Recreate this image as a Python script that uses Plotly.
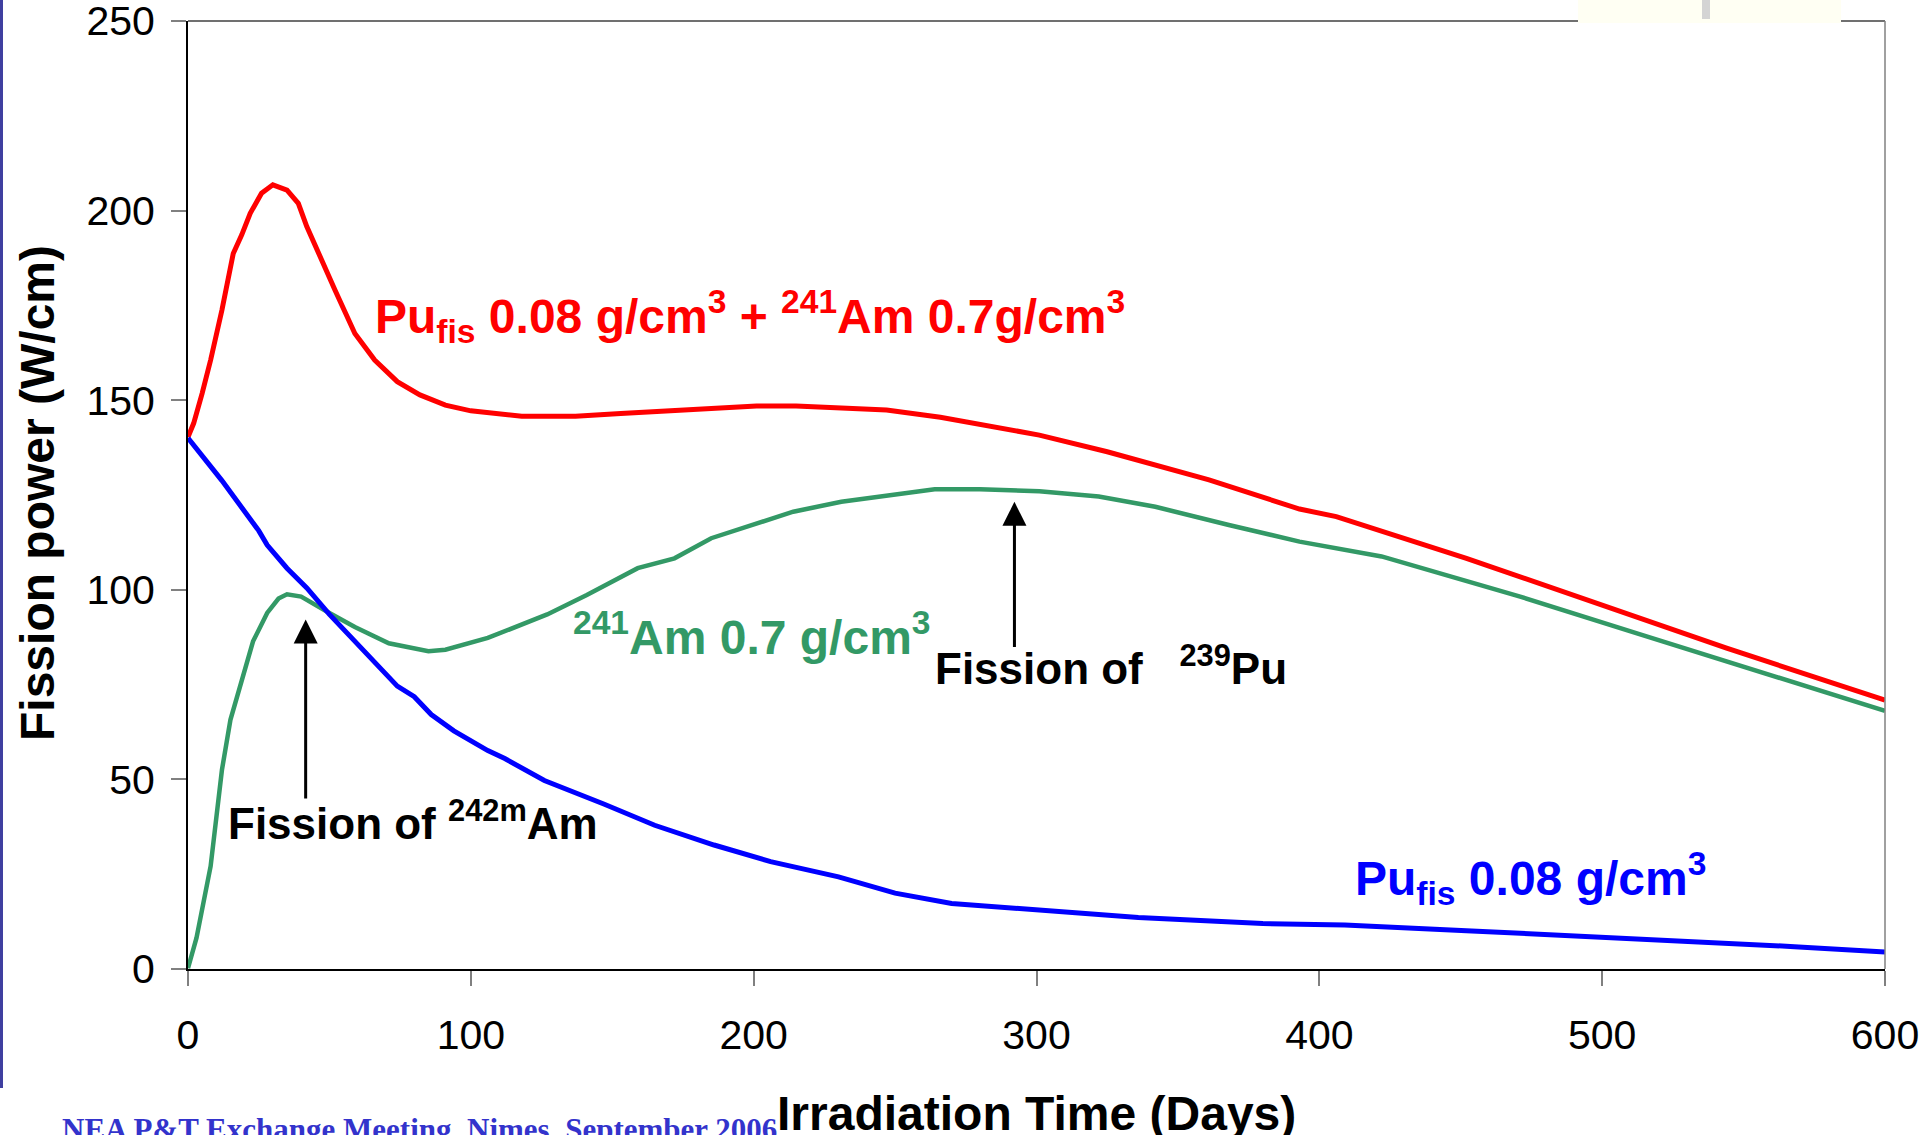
import plotly.graph_objects as go

# ---------------- data ----------------
red_x = [0, 2, 5, 8, 12, 14, 16, 19, 22, 26, 30, 35, 39, 42, 47, 52, 59, 66, 74, 82, 91,
         100, 118, 137, 153, 177, 201, 215, 247, 266, 301, 325, 361, 393, 406, 452, 498, 544, 600]
red_y = [140.3, 143.9, 151.8, 160.6, 173.8, 181.7, 188.7, 193.6, 199.3, 204.6, 206.8, 205.4,
         201.9, 195.8, 187.0, 179.0, 167.6, 160.6, 154.9, 151.4, 148.7, 147.2, 145.8, 145.8,
         146.5, 147.6, 148.5, 148.5, 147.4, 145.5, 140.8, 136.4, 129.0, 121.3, 119.3, 108.3,
         96.4, 84.6, 70.9]

green_x = [0, 3, 8, 12, 15, 19, 23, 28, 32, 35, 40, 50, 59, 71, 85, 91, 106, 127, 141, 159,
           172, 185, 200, 214, 231, 248, 264, 280, 301, 322, 342, 368, 393, 422, 471, 514, 560, 600]
green_y = [0.2, 8.2, 27.1, 52.5, 65.7, 76.0, 86.4, 93.9, 97.7, 98.8, 98.2, 93.9, 90.2, 85.9,
           83.8, 84.2, 87.3, 93.5, 98.6, 105.7, 108.3, 113.6, 117.1, 120.6, 123.2, 125.0, 126.5,
           126.5, 126.0, 124.6, 121.9, 117.1, 112.7, 108.8, 98.2, 88.1, 77.5, 68.1]

blue_x = [0, 12, 25, 28, 35, 42, 50, 62, 74, 80, 86, 94, 106, 112, 126, 147, 165, 186, 206,
          230, 250, 270, 308, 336, 380, 409, 452, 510, 568, 600]
blue_y = [140.0, 128.8, 115.6, 111.8, 105.7, 100.5, 93.5, 84.0, 74.6, 71.8, 67.1, 62.8, 57.6,
          55.5, 49.7, 43.5, 37.9, 32.7, 28.3, 24.3, 20.0, 17.3, 15.0, 13.6, 12.0, 11.6, 10.1,
          8.1, 5.9, 4.5]

x_ticks = [0, 100, 200, 300, 400, 500, 600]
y_ticks = [0, 50, 100, 150, 200, 250]

# arrows: (x, tip y, tail y) in data units
arrow_242 = (41.6, 92.2, 44.6)
arrow_239 = (292.2, 123.2, 84.5)

RED = "#FF0000"
GREEN = "#339966"
BLUE = "#0000FF"
FONT = "Liberation Sans, Arial, sans-serif"

W, H = 1931, 1135
L, R, T, B = 188, 46, 21, 166
PW, PH = W - L - R, H - T - B


def px(xp):
    return (xp - L) / PW


def py(yp):
    return (H - B - yp) / PH


fig = go.Figure()
fig.add_trace(go.Scatter(x=red_x, y=red_y, mode="lines", line=dict(color=RED, width=5),
                         cliponaxis=False, showlegend=False))
fig.add_trace(go.Scatter(x=green_x, y=green_y, mode="lines", line=dict(color=GREEN, width=4.5),
                         cliponaxis=False, showlegend=False))
fig.add_trace(go.Scatter(x=blue_x, y=blue_y, mode="lines", line=dict(color=BLUE, width=5),
                         cliponaxis=False, showlegend=False))

anns = []


def label(xp, baseline, text, size, color, xanchor="left", family=FONT):
    anns.append(dict(xref="paper", yref="paper", x=px(xp), y=py(baseline - 0.35 * size),
                     xanchor=xanchor, yanchor="middle", showarrow=False, text=text,
                     font=dict(size=size, color=color, family=family)))


label(373, 333, "<b>Pu<sub>fis</sub> 0.08 g/cm<sup>3</sup> + <sup>241</sup>Am 0.7g/cm<sup>3</sup></b>", 48, RED)
label(571, 651, "<b><sup>241</sup>Am 0.7 g/cm<sup>3</sup></b>", 48, GREEN)
label(933, 681, "<b>Fission of&nbsp;&nbsp; <sup>239</sup>Pu</b>", 44, "black")
label(226, 836, "<b>Fission of <sup>242m</sup>Am</b>", 44, "black")
label(1353, 895, "<b>Pu<sub>fis</sub> 0.08 g/cm<sup>3</sup></b>", 48, BLUE)
label(60, 1140, "<b>NEA P&amp;T Exchange Meeting, Nimes, September 2006</b>", 31, "#3333CC",
      family="Liberation Serif, Times New Roman, serif")
label(L + PW / 2, 1130, "<b>Irradiation Time (Days)</b>", 48, "black", xanchor="center")

anns.append(dict(xref="paper", yref="paper", x=px(37), y=py(493), xanchor="center", yanchor="middle",
                 textangle=-90, showarrow=False, text="<b>Fission power (W/cm)</b>",
                 font=dict(size=48, color="black", family=FONT)))

for (ax_x, tip, tail) in (arrow_242, arrow_239):
    anns.append(dict(xref="x", yref="y", x=ax_x, y=tip, axref="x", ayref="y", ax=ax_x, ay=tail,
                     text="", showarrow=True, arrowhead=2, arrowsize=1.6, arrowwidth=3,
                     arrowcolor="black"))

shapes = [
    # top and right frame lines
    dict(type="line", xref="paper", yref="paper", x0=0, x1=1, y0=1, y1=1,
         line=dict(color="#404040", width=1.5)),
    dict(type="line", xref="paper", yref="paper", x0=1, x1=1, y0=0, y1=1,
         line=dict(color="#808080", width=1.5)),
    # cream box at top right
    dict(type="rect", xref="paper", yref="paper", x0=px(1578), x1=px(1841), y0=py(23), y1=py(0),
         fillcolor="#FFFFF3", line=dict(width=0)),
    dict(type="rect", xref="paper", yref="paper", x0=px(1702), x1=px(1710), y0=py(19), y1=py(0),
         fillcolor="#D4D4D4", line=dict(width=0)),
    # slide edge line on left
    dict(type="line", xref="paper", yref="paper", x0=px(1.5), x1=px(1.5), y0=py(0), y1=py(1088),
         line=dict(color="#3F3FA0", width=3)),
]

fig.update_layout(
    width=W, height=H, autosize=False,
    margin=dict(l=L, r=R, t=T, b=B, pad=0),
    paper_bgcolor="white", plot_bgcolor="white",
    annotations=anns, shapes=shapes,
    xaxis=dict(range=[0, 600], tickvals=x_ticks, ticktext=[str(v) for v in x_ticks],
               showgrid=False, zeroline=False, showline=True, linecolor="black", linewidth=2,
               ticks="outside", ticklen=15, tickwidth=1.5, tickcolor="#808080",
               tickfont=dict(size=41, color="black", family=FONT), ticklabelstandoff=14,
               ticklabeloverflow="allow", automargin=False),
    yaxis=dict(range=[0, 250], tickvals=y_ticks, ticktext=[str(v) for v in y_ticks],
               showgrid=False, zeroline=False, showline=True, linecolor="black", linewidth=2,
               ticks="outside", ticklen=15, tickwidth=1.5, tickcolor="#808080",
               tickfont=dict(size=41, color="black", family=FONT), ticklabelstandoff=8,
               ticklabeloverflow="allow", automargin=False),
)

fig.write_html("out.html", include_plotlyjs=True, full_html=True,
               config={"displayModeBar": False},
               post_script="document.body.style.margin='0';document.body.style.overflow='hidden';")
